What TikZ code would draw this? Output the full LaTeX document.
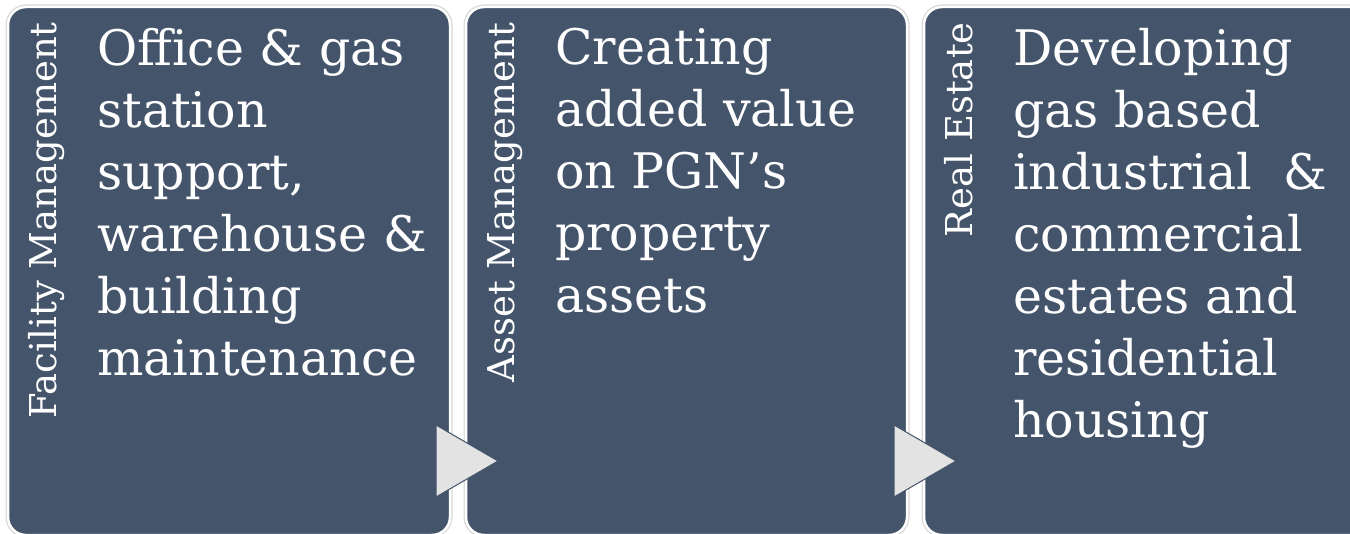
\documentclass[tikz,border=0pt]{standalone}
\usepackage{fontspec}
\setmainfont{DejaVu Serif}
\definecolor{boxblue}{HTML}{44546A}
\definecolor{arrowgray}{HTML}{E3E3E3}
\definecolor{edgegray}{HTML}{D8D8D8}
\begin{document}
\begin{tikzpicture}[x=1pt,y=-1pt,
  panel/.style={draw=edgegray,line width=5pt,rounded corners=18pt},
  panelfill/.style={fill=boxblue,draw=white,line width=2.5pt,rounded corners=18pt},
  sidelabel/.style={rotate=90,anchor=base east,inner sep=0pt,text=white,font=\fontsize{37}{44}\selectfont},
  bodytext/.style={anchor=north west,inner sep=0pt,align=left,text=white,font=\fontsize{49}{62}\selectfont},
  flowarrow/.style={fill=arrowgray,draw=boxblue,line width=1pt,line join=miter}]
\useasboundingbox (0,0) rectangle (1350,534);
\fill[white] (0,0) rectangle (1350,534);
% panels
\foreach \xa/\xb in {8/450,466/907,924/1372}{
  \draw[panel] (\xa,7) rectangle (\xb,535);
  \draw[panelfill] (\xa,7) rectangle (\xb,535);
}
\node (p1) at (229,266) {};
\node (p2) at (686,266) {};
\node (p3) at (1148,266) {};
% side labels
\node[sidelabel] (l1) at (56,22) {Facility Management};
\node[sidelabel] (l2) at (514,22) {Asset Management};
\node[sidelabel] (l3) at (972,22) {Real Estate};
% body texts
\node[bodytext] (t1) at (97,28) {Office \& gas\\station\\support,\\warehouse \&\\building\\maintenance};
\node[bodytext] (t2) at (555,28) {Creating\\added value\\on PGN’s\\property\\assets};
\node[bodytext] (t3) at (1013,28) {Developing\\gas based\\industrial~ \&\\commercial\\estates and\\residential\\housing};
% arrows
\draw[flowarrow] (436,425) -- (436,497) -- (498,461) -- cycle;
\draw[flowarrow] (894,425) -- (894,497) -- (956,461) -- cycle;
\end{tikzpicture}
\end{document}
